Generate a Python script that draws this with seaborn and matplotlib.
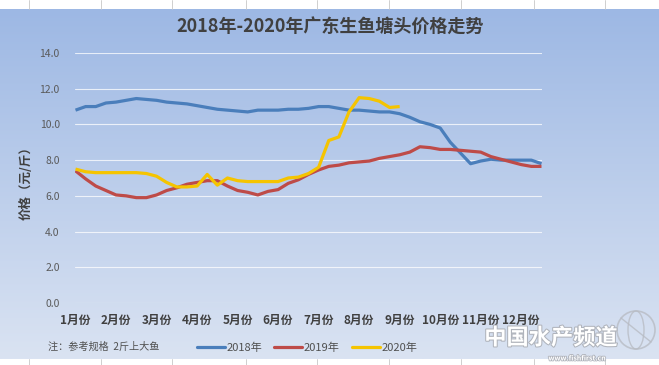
import numpy as np
import pandas as pd
import matplotlib
matplotlib.use("Agg")
import matplotlib.pyplot as plt
import matplotlib.patheffects as pe
import seaborn as sns
from matplotlib.lines import Line2D
from matplotlib.patches import Circle, Ellipse

months = ["1月份", "2月份", "3月份", "4月份", "5月份", "6月份",
          "7月份", "8月份", "9月份", "10月份", "11月份", "12月份"]

price_2018 = [10.8, 11.0, 11.0, 11.2, 11.25, 11.35, 11.45, 11.4, 11.35, 11.25,
              11.2, 11.15, 11.05, 10.95, 10.85, 10.8, 10.75, 10.7, 10.8, 10.8,
              10.8, 10.85, 10.85, 10.9, 11.0, 11.0, 10.9, 10.8, 10.8, 10.75,
              10.7, 10.7, 10.6, 10.4, 10.15, 10.0, 9.8, 9.0, 8.4, 7.8,
              7.95, 8.05, 8.0, 8.0, 8.0, 8.0, 7.8]
price_2019 = [7.4, 6.95, 6.55, 6.3, 6.05, 6.0, 5.9, 5.9, 6.05, 6.3,
              6.45, 6.65, 6.75, 6.85, 6.85, 6.55, 6.3, 6.2, 6.05, 6.25,
              6.35, 6.7, 6.9, 7.2, 7.45, 7.65, 7.72, 7.85, 7.9, 7.95,
              8.1, 8.2, 8.3, 8.45, 8.75, 8.7, 8.6, 8.6, 8.55, 8.5,
              8.45, 8.2, 8.05, 7.9, 7.75, 7.65, 7.65]
price_2020 = [7.5, 7.35, 7.3, 7.3, 7.3, 7.3, 7.3, 7.25, 7.1, 6.75,
              6.5, 6.5, 6.55, 7.2, 6.6, 7.0, 6.85, 6.8, 6.8, 6.8,
              6.8, 7.0, 7.05, 7.25, 7.6, 9.1, 9.3, 10.7, 11.5, 11.45,
              11.3, 10.95, 11.0]
years = ["2018年", "2019年", "2020年"]
colors = ["#4a7ebb", "#be4b48", "#f5c400"]
yticks = [0, 2, 4, 6, 8, 10, 12, 14]

rows = []
for yr, vals in zip(years, [price_2018, price_2019, price_2020]):
    for i, v in enumerate(vals):
        rows.append({"week": i, "price": v, "year": yr})
df = pd.DataFrame(rows)

sns.set_style("white")
plt.rcParams['font.family'] = ['Noto Sans CJK SC', 'DejaVu Sans']

W, H = 659, 365
fig = plt.figure(figsize=(W / 100, H / 100), dpi=100)
fig.patch.set_facecolor("white")

# gradient background
bg = fig.add_axes([0, 6 / H, 1, 350 / H], zorder=-2)
grad = np.linspace(0, 1, 256).reshape(-1, 1)
top = np.array([157, 184, 228]) / 255
bot = np.array([218, 227, 242]) / 255
img = top[None, None, :] * (1 - grad[..., None]) + bot[None, None, :] * grad[..., None]
bg.imshow(img, aspect="auto", extent=[0, 1, 0, 1])
bg.set_axis_off()

# spreadsheet cell lines in white strips
for xp in [29, 101, 172, 246, 317, 389, 461, 534, 605]:
    fig.add_artist(Line2D([xp / W, xp / W], [1 - 9 / H, 1], color="#c8c8c8", lw=0.6))
    fig.add_artist(Line2D([xp / W, xp / W], [0, 6 / H], color="#c8c8c8", lw=0.6))

ax = fig.add_axes([75 / W, 1 - 303 / H, 467 / W, 250 / H])
ax.set_facecolor("none")
sns.lineplot(data=df, x="week", y="price", hue="year", palette=colors,
             linewidth=2.3, ax=ax, legend=False, zorder=3)
for ln in ax.get_lines():
    ln.set_solid_capstyle("butt")

ax.set_xlim(-0.05, 46.05)
ax.set_ylim(0, 14)
ax.set_yticks(yticks)
ax.set_yticklabels([f"{v:.1f}" for v in yticks], fontsize=7.5, color="#5a5a5a")
ax.set_xticks(range(0, 48, 4))
ax.set_xticklabels(months, fontsize=8.5, fontweight="bold", color="#404040")
ax.tick_params(axis="x", length=0, pad=8)
ax.tick_params(axis="y", length=0, pad=11)
ax.grid(axis="y", color="white", alpha=0.75, lw=0.8)
for s in ax.spines.values():
    s.set_visible(False)
ax.set_xlabel("")
ax.set_ylabel("")

fig.text(26 / W, 1 - 180 / H, "价格（元/斤）", rotation=90, ha="center", va="center",
         fontsize=9, fontweight="bold", color="#404040")
fig.text(330 / W, 1 - 26 / H, "2018年-2020年广东生鱼塘头价格走势", ha="center", va="center",
         fontsize=13, fontweight="bold", color="#404040")
fig.text(48 / W, 1 - 347 / H, "注：参考规格  2斤上大鱼", ha="left", va="center",
         fontsize=7.3, color="#505050")

handles = [Line2D([0], [0], color=c, lw=2.3) for c in colors]
fig.legend(handles, years, loc="center", bbox_to_anchor=(307 / W, 1 - 348 / H),
           ncol=3, frameon=False, fontsize=8, handlelength=2.5, handletextpad=0.15,
           columnspacing=1.1, labelcolor="#505050")

# watermark
glob = Ellipse((636 / W, 1 - 330 / H), 38 / W, 38 / H, fill=False,
               edgecolor="#b8bcc4", lw=1.2, alpha=0.8, transform=fig.transFigure)
fig.add_artist(glob)
fig.add_artist(Ellipse((636 / W, 1 - 330 / H), 16 / W, 38 / H, angle=0, fill=False,
                       edgecolor="#b8bcc4", lw=1.0, alpha=0.8, transform=fig.transFigure))
fig.add_artist(Line2D([621 / W, 651 / W], [1 - 318 / H, 1 - 342 / H], color="#b8bcc4", lw=1.0, alpha=0.8))
fig.text(551 / W, 1 - 338 / H, "中国水产频道", ha="center", va="center",
         fontsize=16, fontweight="bold", color="white", style="italic",
         path_effects=[pe.withStroke(linewidth=1.5, foreground="#b0b4bc")])
fig.text(577 / W, 1 - 358 / H, "www.fishfirst.cn", ha="center", va="center",
         fontsize=5, color="white", fontweight="bold",
         path_effects=[pe.withStroke(linewidth=1.2, foreground="#b0b4bc")])

fig.savefig("out.png", dpi=100)
